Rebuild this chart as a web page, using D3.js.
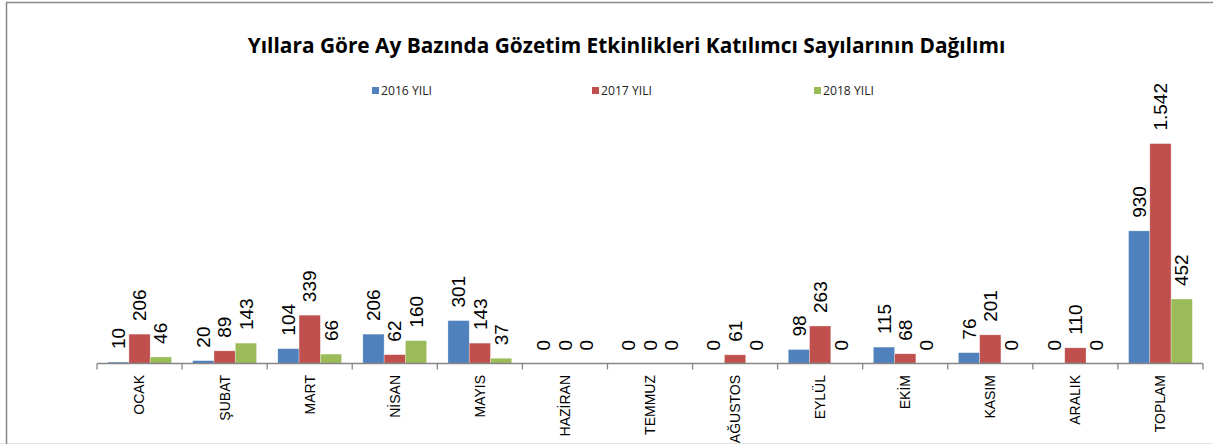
<!DOCTYPE html>
<html><head><meta charset="utf-8">
<script src="https://cdn.jsdelivr.net/npm/d3@7"></script>
<style>body{margin:0;background:#fff}svg{display:block}</style>
</head><body>
<script>
const categories = ["OCAK","ŞUBAT","MART","NİSAN","MAYIS","HAZİRAN","TEMMUZ","AĞUSTOS","EYLÜL","EKİM","KASIM","ARALIK","TOPLAM"];
const seriesNames = ["2016 YILI","2017 YILI","2018 YILI"];
const values2016 = [10,20,104,206,301,0,0,0,98,115,76,0,930];
const values2017 = [206,89,339,62,143,0,0,61,263,68,201,110,1542];
const values2018 = [46,143,66,160,37,0,0,0,0,0,0,0,452];
const colors = ["#4F81BD","#C0504D","#9BBB59"];
const titleText = "Yıllara Göre Ay Bazında Gözetim Etkinlikleri Katılımcı Sayılarının Dağılımı";
const fmt = v => v >= 1000 ? d3.format(",")(v).replace(/,/g,".") : String(v);

const W = 1213, H = 444;
const svg = d3.select("body").append("svg").attr("width", W).attr("height", H);

// frame
svg.append("line").attr("x1",0).attr("x2",W).attr("y1",443.5).attr("y2",443.5).attr("stroke","#e6e6e6").attr("stroke-width",1);
svg.append("path").attr("d","M6.5,444V2.5H1213").attr("fill","none").attr("stroke","#888").attr("stroke-width",1.5);

// title
const title = svg.append("text").text(titleText)
  .attr("x", 626.5).attr("y", 53).attr("text-anchor","middle")
  .attr("font-family","'Open Sans', 'Noto Sans', sans-serif").attr("font-weight","bold").attr("font-size",20).attr("fill","#000");
{ const w = title.node().getComputedTextLength(); title.attr("font-size", 20*758/w); }

// legend
const legX = [372, 592, 814];
seriesNames.forEach((s,i)=>{
  svg.append("rect").attr("x",legX[i]).attr("y",87).attr("width",7).attr("height",7).attr("fill",colors[i]);
  const t = svg.append("text").text(s).attr("x",legX[i]+9).attr("y",90.5).attr("dy","0.35em")
    .attr("font-family","'Open Sans', sans-serif").attr("font-size",11).attr("fill","#222");
  const w = t.node().getComputedTextLength(); t.attr("font-size", 11*51/w);
});

const x0 = d3.scaleBand().domain(categories).range([97,1203]).padding(0);
const x1 = d3.scaleBand().domain(seriesNames).range([0,x0.bandwidth()]).paddingInner(0).paddingOuter(0.5);
const y = d3.scaleLinear().domain([0,1800]).range([363.5,106.8]);

const data = [values2016, values2017, values2018];
const g = svg.append("g");
seriesNames.forEach((s,si)=>{
  g.selectAll(null).data(categories).enter().append("rect")
    .attr("x", c=>x0(c)+x1(s)).attr("width", x1.bandwidth())
    .attr("y", (c,i)=>y(data[si][i])).attr("height",(c,i)=>y(0)-y(data[si][i]))
    .attr("fill", colors[si]).attr("stroke","rgba(255,255,255,0.5)").attr("stroke-width",0.6);
  g.selectAll(null).data(categories).enter().append("text")
    .attr("transform",(c,i)=>`translate(${x0(c)+x1(s)+x1.bandwidth()/2},${y(data[si][i])-13}) rotate(-90)`)
    .attr("dy","0.35em").attr("text-anchor","start")
    .attr("font-family","'Liberation Sans', Arial, sans-serif").attr("font-size",19).attr("fill","#000")
    .text((c,i)=>fmt(data[si][i]));
});

// axis
const axis = svg.append("g").attr("transform","translate(0,363.5)")
  .call(d3.axisBottom(x0).tickSize(0).tickFormat(""));
axis.select(".domain").attr("stroke","#868686").attr("stroke-width",1.3).attr("d","M97,0H1203");
const bounds = categories.map(c=>x0(c)).concat([x0.range()[1]]);
axis.selectAll(".bt").data(bounds).enter().append("line").attr("class","bt")
  .attr("x1",d=>d).attr("x2",d=>d).attr("y1",0).attr("y2",6).attr("stroke","#868686").attr("stroke-width",1.3);
axis.selectAll(".cl").data(categories).enter().append("text").attr("class","cl")
  .attr("transform",c=>`translate(${x0(c)+x0.bandwidth()/2},11.5) rotate(-90)`)
  .attr("dy","0.35em").attr("text-anchor","end")
  .attr("font-family","'Liberation Sans', Arial, sans-serif").attr("font-size",14).attr("fill","#000")
  .text(c=>c);
</script>
</body></html>
